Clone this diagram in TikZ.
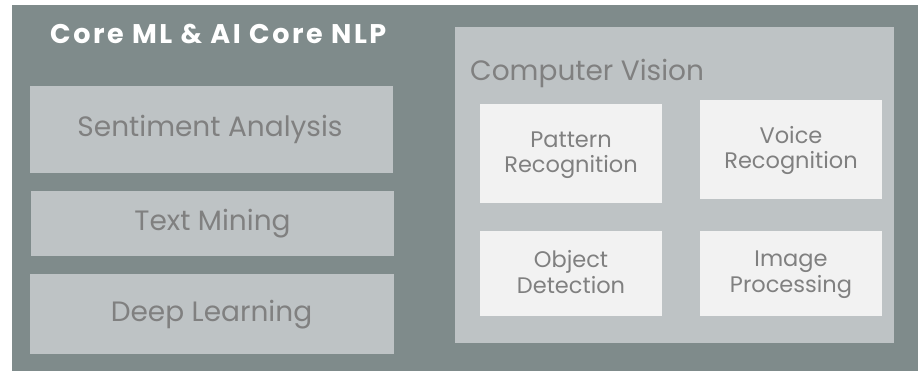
\documentclass[tikz,border=0pt]{standalone}
\usepackage{fontspec}
\setmainfont{Poppins}
\newfontfamily\titlefont[LetterSpace=9.5]{Poppins}
\definecolor{bgc}{RGB}{127,139,139}
\definecolor{midc}{RGB}{190,195,197}
\definecolor{lightc}{RGB}{242,242,242}
\definecolor{txtc}{RGB}{128,128,128}
\begin{document}
\begin{tikzpicture}[x=1pt,y=-1pt,
  leftbox/.style={fill=midc, draw=none},
  innerbox/.style={fill=lightc, draw=none},
  lbl/.style={text=txtc, font=\fontsize{28}{32}\selectfont, inner sep=0pt, anchor=base},
  slbl/.style={text=txtc, font=\fontsize{22.5}{25.6}\selectfont, align=center, inner sep=0pt}]
\useasboundingbox (0,0) rectangle (924,371);
\fill[white] (0,0) rectangle (924,371);
\fill[bgc] (12,5) rectangle (918,371);
\node[anchor=base west, text=white, font=\titlefont\fontsize{27}{30}\selectfont\bfseries, inner sep=0pt] (title) at (50,43.3) {Core ML \& AI Core NLP};
% left boxes
\fill[leftbox] (30,86) rectangle (393,173);
\node[lbl] (sa) at (210,136.5) {Sentiment Analysis};
\fill[leftbox] (31,191) rectangle (394,256);
\node[lbl] (tm) at (212.5,231) {Text Mining};
\fill[leftbox] (30,274) rectangle (394,354);
\node[lbl] (dl) at (211.5,321.7) {Deep Learning};
% right panel
\fill[leftbox] (455,27) rectangle (894,343);
\node[lbl, anchor=base west] (cv) at (470,80.5) {Computer Vision};
\fill[innerbox] (480,104) rectangle (662,203);
\node[slbl] (pr) at (571,155) {Pattern\\Recognition};
\fill[innerbox] (700,100) rectangle (882,199);
\node[slbl] (vr) at (791,150.5) {Voice\\Recognition};
\fill[innerbox] (480,231) rectangle (662,316);
\node[slbl] (od) at (571,271.8) {Object\\Detection};
\fill[innerbox] (700,231) rectangle (882,316);
\node[slbl] (ip) at (791,274.5) {Image\\Processing};
\end{tikzpicture}
\end{document}
